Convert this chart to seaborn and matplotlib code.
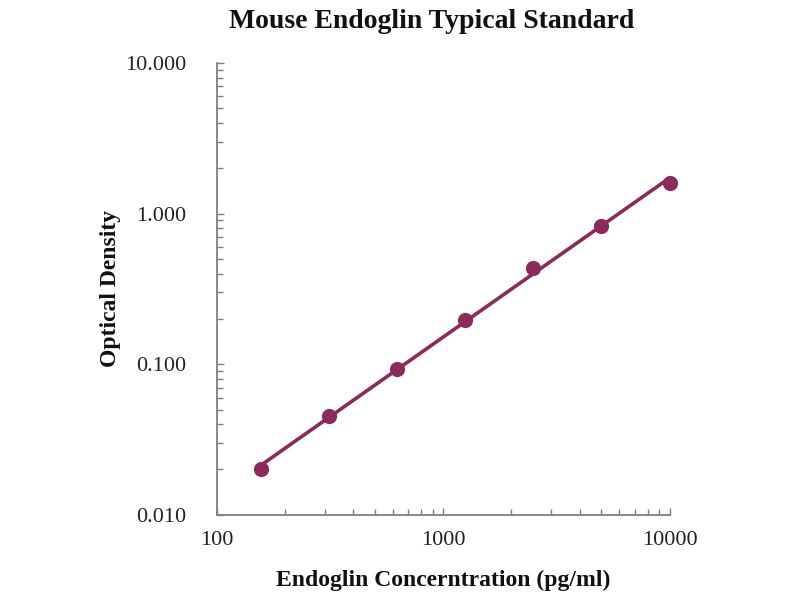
import numpy as np
import matplotlib
matplotlib.use("Agg")
import matplotlib.pyplot as plt
import seaborn as sns
from matplotlib.ticker import LogLocator, FixedLocator, FixedFormatter, NullFormatter

# dados
concentracao = [156.25, 312.5, 625, 1250, 2500, 5000, 10000]
densidade = [0.020, 0.045, 0.093, 0.197, 0.435, 0.828, 1.60]

x_ticks = [100, 1000, 10000]
x_labels = ["100", "1000", "10000"]
y_ticks = [0.01, 0.1, 1, 10]
y_labels = ["0.010", "0.100", "1.000", "10.000"]

sns.set_style("white")
plt.rcParams["font.family"] = ["Liberation Serif", "DejaVu Serif"]

cor = "#8c2a5c"

fig = plt.figure(figsize=(8, 6), dpi=100)
ax = fig.add_axes([0.271, 0.142, 0.566, 0.753])

# linha de tendência (potência) ajustada aos pontos
coef = np.polyfit(np.log10(concentracao), np.log10(densidade), 1)
x_fit = np.array([concentracao[0], concentracao[-1]])
y_fit = 10 ** np.polyval(coef, np.log10(x_fit))
sns.lineplot(x=x_fit, y=y_fit, ax=ax, color=cor, linewidth=2.6)
sns.scatterplot(x=concentracao, y=densidade, ax=ax, color=cor, s=120,
                edgecolor=cor, linewidth=0, zorder=3, clip_on=False)

ax.set_xscale("log")
ax.set_yscale("log")
ax.set_xlim(100, 10000)
ax.set_ylim(0.01, 10)

ax.xaxis.set_major_locator(FixedLocator(x_ticks))
ax.xaxis.set_major_formatter(FixedFormatter(x_labels))
ax.yaxis.set_major_locator(FixedLocator(y_ticks))
ax.yaxis.set_major_formatter(FixedFormatter(y_labels))
ax.xaxis.set_minor_locator(LogLocator(base=10, subs=np.arange(2, 10)))
ax.yaxis.set_minor_locator(LogLocator(base=10, subs=np.arange(2, 10)))
ax.xaxis.set_minor_formatter(NullFormatter())
ax.yaxis.set_minor_formatter(NullFormatter())

ax.tick_params(which="both", direction="in", color="#808080", width=1,
               bottom=True, left=True)
ax.tick_params(which="major", length=5, labelsize=16, labelcolor="#222222")
ax.tick_params(which="minor", length=4)
ax.tick_params(axis="x", which="major", pad=12)
ax.tick_params(axis="y", which="major", pad=22)

for s in ["top", "right"]:
    ax.spines[s].set_visible(False)
for s in ["left", "bottom"]:
    ax.spines[s].set_color("#808080")
    ax.spines[s].set_linewidth(1.3)

fig.text(0.539, 0.965, "Mouse Endoglin Typical Standard", fontsize=20,
         fontweight="bold", ha="center", va="center", color="#111111")
ax.set_xlabel("Endoglin Concerntration (pg/ml)", fontsize=17, fontweight="bold",
              labelpad=14, color="#111111")
ax.set_ylabel("Optical Density", fontsize=17, fontweight="bold", labelpad=3,
              color="#111111")

fig.savefig("out.png", dpi=100)
